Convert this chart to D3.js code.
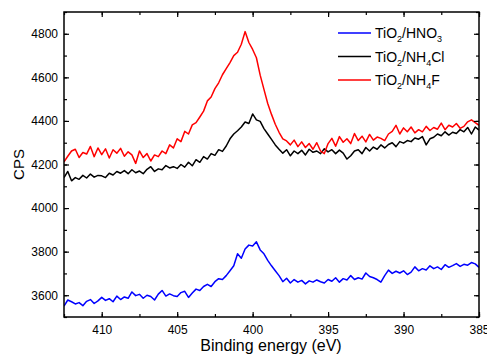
<!DOCTYPE html>
<html>
<head>
<meta charset="utf-8">
<script src="https://cdn.jsdelivr.net/npm/d3@7"></script>
<style>
body { margin: 0; background: #fff; }
text { font-family: Arial, "Liberation Sans", sans-serif; }
</style>
</head>
<body>
<div id="chart"></div>
<script>
// binding energy grid: 412.5 eV down to 385 eV, 0.25 eV step
var eStart = 412.5, eStep = 0.25;

var hno3 = [3550,3578,3570,3560,3566,3552,3572,3580,3562,3574,3590,3576,3584,3570,3596,3580,3592,3586,3615,3598,
	3604,3586,3600,3594,3578,3605,3622,3596,3606,3598,3594,3612,3618,3590,3610,3628,3622,3640,3650,3640,
	3662,3676,3672,3690,3712,3735,3790,3770,3812,3830,3826,3845,3808,3790,3760,3735,3712,3690,3662,3678,
	3656,3672,3660,3668,3652,3666,3660,3670,3662,3656,3672,3664,3680,3660,3676,3670,3690,3672,3680,3674,
	3702,3686,3680,3672,3660,3690,3715,3700,3710,3702,3712,3695,3706,3730,3712,3722,3716,3735,3722,3730,
	3718,3740,3728,3736,3745,3732,3742,3738,3750,3744,3728];

var nh4cl = [4140,4168,4125,4140,4132,4150,4138,4156,4142,4150,4148,4140,4160,4152,4168,4160,4172,4158,4176,4162,
	4170,4158,4178,4190,4168,4180,4176,4195,4184,4190,4182,4200,4188,4210,4194,4222,4210,4236,4225,4250,
	4242,4268,4260,4285,4318,4340,4355,4372,4395,4388,4432,4405,4398,4365,4340,4315,4290,4270,4252,4268,
	4240,4262,4250,4265,4244,4270,4256,4262,4250,4272,4258,4268,4250,4266,4252,4225,4240,4262,4268,4250,
	4278,4262,4280,4270,4290,4276,4292,4300,4282,4305,4298,4310,4305,4322,4316,4328,4290,4318,4325,4340,
	4332,4350,4335,4348,4342,4360,4350,4370,4340,4372,4358];

var nh4f = [4212,4238,4262,4270,4232,4255,4248,4283,4236,4276,4245,4272,4230,4268,4252,4274,4238,4258,4244,4205,
	4262,4232,4250,4216,4244,4236,4262,4250,4290,4276,4318,4305,4352,4340,4382,4392,4418,4445,4492,4510,
	4548,4575,4612,4640,4668,4700,4715,4752,4810,4760,4728,4690,4610,4545,4480,4430,4385,4348,4318,4308,
	4290,4312,4282,4304,4278,4296,4270,4300,4262,4250,4296,4320,4284,4328,4302,4318,4296,4342,4310,4330,
	4304,4338,4312,4326,4320,4310,4340,4352,4380,4340,4368,4350,4372,4345,4360,4350,4375,4356,4370,4362,
	4390,4360,4380,4372,4388,4366,4375,4396,4405,4392,4380];

var seriesColors = ["#0000ff", "#000000", "#ff0000"];
var xTicks = [410, 405, 400, 395, 390, 385];
var yTicks = [3600, 3800, 4000, 4200, 4400, 4600, 4800];

var W = 487, H = 354;
var pLeft = 64, pRight = 479, pTop = 12, pBottom = 317;

var svg = d3.select("#chart").append("svg").attr("width", W).attr("height", H);

var x = d3.scaleLinear().domain([412.5, 385]).range([pLeft, pRight]);
var y = d3.scaleLinear().domain([3500, 4900]).range([pBottom, pTop]);

svg.append("clipPath").attr("id", "clip")
	.append("rect").attr("x", pLeft).attr("y", pTop).attr("width", pRight - pLeft).attr("height", pBottom - pTop);

var allSeries = [hno3, nh4cl, nh4f];
var line = d3.line()
	.x(function(d, i) { return x(eStart - i * eStep); })
	.y(function(d) { return y(d); });

svg.append("g").attr("clip-path", "url(#clip)")
	.selectAll("path").data(allSeries).enter()
	.append("path")
	.attr("fill", "none")
	.attr("stroke", function(d, i) { return seriesColors[i]; })
	.attr("stroke-width", 1.5)
	.attr("stroke-linejoin", "round")
	.attr("d", line);

// axes with inward ticks on all sides
var xMinor = d3.range(412.5, 384.9, -2.5);
var yMinor = d3.range(3500, 4901, 100);

function axisStyle(g) {
	g.select(".domain").remove();
	g.selectAll("line").attr("stroke", "#000").attr("stroke-width", 1.2);
}

svg.append("g").attr("transform", "translate(0," + pBottom + ")")
	.call(d3.axisBottom(x).tickValues(xMinor).tickSize(-3).tickFormat(""))
	.call(axisStyle);
svg.append("g").attr("transform", "translate(0," + pBottom + ")")
	.call(d3.axisBottom(x).tickValues(xTicks).tickSize(-5).tickPadding(8).tickFormat(d3.format("d")))
	.call(axisStyle)
	.selectAll("text").attr("font-size", 12).attr("fill", "#000");
svg.append("g").attr("transform", "translate(0," + pTop + ")")
	.call(d3.axisTop(x).tickValues(xMinor).tickSize(-3).tickFormat(""))
	.call(axisStyle);
svg.append("g").attr("transform", "translate(0," + pTop + ")")
	.call(d3.axisTop(x).tickValues(xTicks).tickSize(-5).tickFormat(""))
	.call(axisStyle);

svg.append("g").attr("transform", "translate(" + pLeft + ",0)")
	.call(d3.axisLeft(y).tickValues(yMinor).tickSize(-3).tickFormat(""))
	.call(axisStyle);
svg.append("g").attr("transform", "translate(" + pLeft + ",0)")
	.call(d3.axisLeft(y).tickValues(yTicks).tickSize(-5).tickPadding(6).tickFormat(d3.format("d")))
	.call(axisStyle)
	.selectAll("text").attr("font-size", 12).attr("fill", "#000");
svg.append("g").attr("transform", "translate(" + pRight + ",0)")
	.call(d3.axisRight(y).tickValues(yMinor).tickSize(-3).tickFormat(""))
	.call(axisStyle);
svg.append("g").attr("transform", "translate(" + pRight + ",0)")
	.call(d3.axisRight(y).tickValues(yTicks).tickSize(-5).tickFormat(""))
	.call(axisStyle);

svg.append("rect")
	.attr("x", pLeft).attr("y", pTop).attr("width", pRight - pLeft).attr("height", pBottom - pTop)
	.attr("fill", "none").attr("stroke", "#000").attr("stroke-width", 1.5);

svg.append("text")
	.attr("x", 271).attr("y", 351)
	.attr("text-anchor", "middle").attr("font-size", 16)
	.text("Binding energy (eV)");

svg.append("text")
	.attr("transform", "translate(24," + (pTop + pBottom) / 2 + ") rotate(-90)")
	.attr("text-anchor", "middle").attr("font-size", 15)
	.text("CPS");

// legend
var legendParts = [
	[["TiO", 0], ["2", 1], ["/HNO", 0], ["3", 1]],
	[["TiO", 0], ["2", 1], ["/NH", 0], ["4", 1], ["Cl", 0]],
	[["TiO", 0], ["2", 1], ["/NH", 0], ["4", 1], ["F", 0]]
];
var legend = svg.append("g");
legendParts.forEach(function(parts, i) {
	var ly = 33 + i * 23.5;
	legend.append("line")
		.attr("x1", 338).attr("x2", 371).attr("y1", ly).attr("y2", ly)
		.attr("stroke", seriesColors[i]).attr("stroke-width", 1.5);
	var t = legend.append("text").attr("x", 375).attr("y", ly + 5).attr("font-size", 14);
	parts.forEach(function(p, j) {
		var ts = t.append("tspan").text(p[0]);
		if (p[1]) ts.attr("font-size", 9).attr("dy", 4);
		else if (j > 0) ts.attr("dy", -4);
	});
});
</script>
</body>
</html>
